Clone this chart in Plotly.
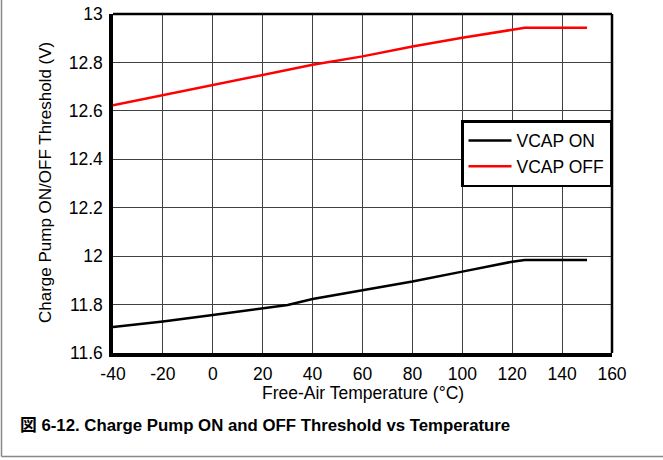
import plotly.graph_objects as go

temp = [-40, -20, 0, 20, 30, 40, 60, 80, 100, 120, 125, 150]
vcap_on = [11.707, 11.730, 11.757, 11.786, 11.798, 11.823, 11.858, 11.895, 11.936, 11.977, 11.984, 11.984]
temp_off = [-40, 0, 20, 40, 60, 80, 100, 120, 125, 150]
vcap_off = [12.623, 12.706, 12.746, 12.790, 12.825, 12.866, 12.902, 12.935, 12.943, 12.943]

x_ticks = [-40, -20, 0, 20, 40, 60, 80, 100, 120, 140, 160]
y_ticks = [11.6, 11.8, 12, 12.2, 12.4, 12.6, 12.8, 13]
y_tick_text = ["11.6", "11.8", "12", "12.2", "12.4", "12.6", "12.8", "13"]

font = "Liberation Sans, Arial, sans-serif"
L, R, T, B = 113, 51, 14, 107
PW, PH = 663 - L - R, 460 - T - B


def px_x(p):
    return (p - L) / PW


def px_y(p):
    return 1 - (p - T) / PH


fig = go.Figure()
fig.add_trace(go.Scatter(x=temp, y=vcap_on, mode="lines", name="VCAP ON",
                         line=dict(color="black", width=2.5)))
fig.add_trace(go.Scatter(x=temp_off, y=vcap_off, mode="lines", name="VCAP OFF",
                         line=dict(color="#ff0000", width=2.5)))

fig.update_layout(
    width=663, height=460,
    margin=dict(l=L, r=R, t=T, b=B, autoexpand=False),
    paper_bgcolor="white", plot_bgcolor="white",
    font=dict(family=font, size=17.5, color="black"),
    showlegend=True,
    legend=dict(x=1, xanchor="right", y=px_y(120), yanchor="top",
                bgcolor="white", bordercolor="black", borderwidth=2.5,
                font=dict(size=17.5, family=font), tracegroupgap=0, itemwidth=43),
    xaxis=dict(range=[-40, 160], tickvals=x_ticks, ticktext=[str(v) for v in x_ticks],
               showgrid=True, gridcolor="#404040", gridwidth=1, automargin=False,
               showline=True, linecolor="black", linewidth=3.5, mirror=False,
               ticks="outside", ticklen=2, tickcolor="rgba(0,0,0,0)", zeroline=False),
    yaxis=dict(range=[11.6, 13], tickvals=y_ticks, ticktext=y_tick_text,
               showgrid=True, gridcolor="#404040", gridwidth=1, automargin=False,
               showline=True, linecolor="black", linewidth=3.5, mirror=False,
               ticks="outside", ticklen=3, tickcolor="rgba(0,0,0,0)", zeroline=False),
)

# axis titles
fig.add_annotation(text="Free-Air Temperature (°C)", xref="paper", yref="paper",
                   x=0.5, xanchor="center", y=px_y(393), yanchor="middle", showarrow=False,
                   font=dict(size=17.5, family=font, color="black"))
fig.add_annotation(text="Charge Pump ON/OFF Threshold (V)", xref="paper", yref="paper",
                   x=px_x(45), xanchor="center", y=px_y(183), yanchor="middle", showarrow=False,
                   textangle=-90, font=dict(size=17, family=font, color="black"))

# top and right frame lines (thinner than left/bottom)
fig.add_shape(type="line", xref="paper", yref="paper", x0=0, x1=1, y0=1, y1=1,
              line=dict(color="black", width=2.5))
fig.add_shape(type="line", xref="paper", yref="paper", x0=1, x1=1, y0=0, y1=1,
              line=dict(color="black", width=2.5))

fig.add_annotation(text="<b>図 6-12. Charge Pump ON and OFF Threshold vs Temperature</b>",
                   xref="paper", yref="paper", x=px_x(18), xanchor="left",
                   y=px_y(425), yanchor="middle", showarrow=False,
                   font=dict(family="Liberation Sans, Arial, Noto Sans CJK JP, sans-serif",
                             size=16.8, color="black"))

# outer figure frame (left and bottom)
fig.add_shape(type="line", xref="paper", yref="paper", x0=px_x(1.5), x1=px_x(1.5),
              y0=px_y(0), y1=px_y(456.5), line=dict(color="#888888", width=1.5))
fig.add_shape(type="line", xref="paper", yref="paper", x0=px_x(1.5), x1=px_x(663),
              y0=px_y(456.5), y1=px_y(456.5), line=dict(color="#888888", width=1.5))

fig.write_html("out.html", config={"displayModeBar": False},
               post_script="document.body.style.margin='0px';document.body.style.padding='0px';")
